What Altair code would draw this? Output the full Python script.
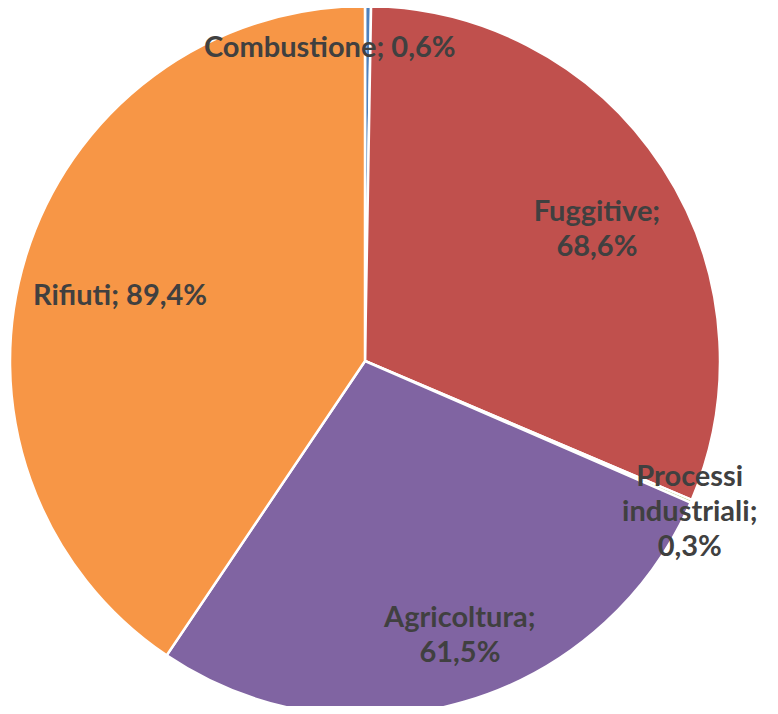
import altair as alt
import pandas as pd

categories = ["Combustione", "Fuggitive", "Processi industriali", "Agricoltura", "Rifiuti"]
values = [0.6, 68.6, 0.3, 61.5, 89.4]
labels = ["Combustione; 0,6%", "Fuggitive;\n68,6%", "Processi\nindustriali;\n0,3%", "Agricoltura;\n61,5%", "Rifiuti; 89,4%"]
colors = ["#4F81BD", "#C0504D", "#9BBB59", "#8064A2", "#F79646"]

df = pd.DataFrame({"cat": categories, "val": values, "label": labels, "idx": list(range(len(categories)))})
total = sum(values)

stacked = alt.Chart(df).transform_stack(
    stack="val", groupby=[], as_=["v0", "v1"], sort=[alt.SortField("idx", order="ascending")]
).transform_calculate(mid="(datum.v0 + datum.v1) / 2")

theta_scale = alt.Scale(domain=[0, total])

pie = stacked.mark_arc(outerRadius=355, stroke="white", strokeWidth=2.5).encode(
    theta=alt.Theta("v0:Q", scale=theta_scale, stack=None),
    theta2="v1:Q",
    color=alt.Color("cat:N", scale=alt.Scale(domain=categories, range=colors), legend=None),
)

label_style = dict(font="Lato", fontSize=29, fontWeight="bold", color="#404040", lineBreak="\n",
                   lineHeight=35, baseline="middle", align="center")
placements = {
    "Combustione": dict(radius=315, dx=-38, dy=2),
    "Fuggitive": dict(radius=267, dx=8, dy=-4),
    "Processi industriali": dict(radius=359, dx=-5, dy=-26),
    "Agricoltura": dict(radius=289, dx=14, dy=-20),
    "Rifiuti": dict(radius=253, dx=-3, dy=9),
}
layers = [pie]
for c in categories:
    p = placements[c]
    layers.append(
        stacked.mark_text(**label_style, **p).encode(
            theta=alt.Theta("mid:Q", scale=theta_scale, stack=None),
            text="label:N",
        ).transform_filter(alt.datum.cat == c)
    )

chart = alt.layer(*layers).properties(
    width=714, height=690,
    autosize=alt.AutoSizeParams(type="none"),
    padding={"left": 0, "top": 8, "right": 40, "bottom": 0},
).configure_view(stroke=None)

chart.save("out.html", embed_options={"renderer": "svg", "actions": False})
